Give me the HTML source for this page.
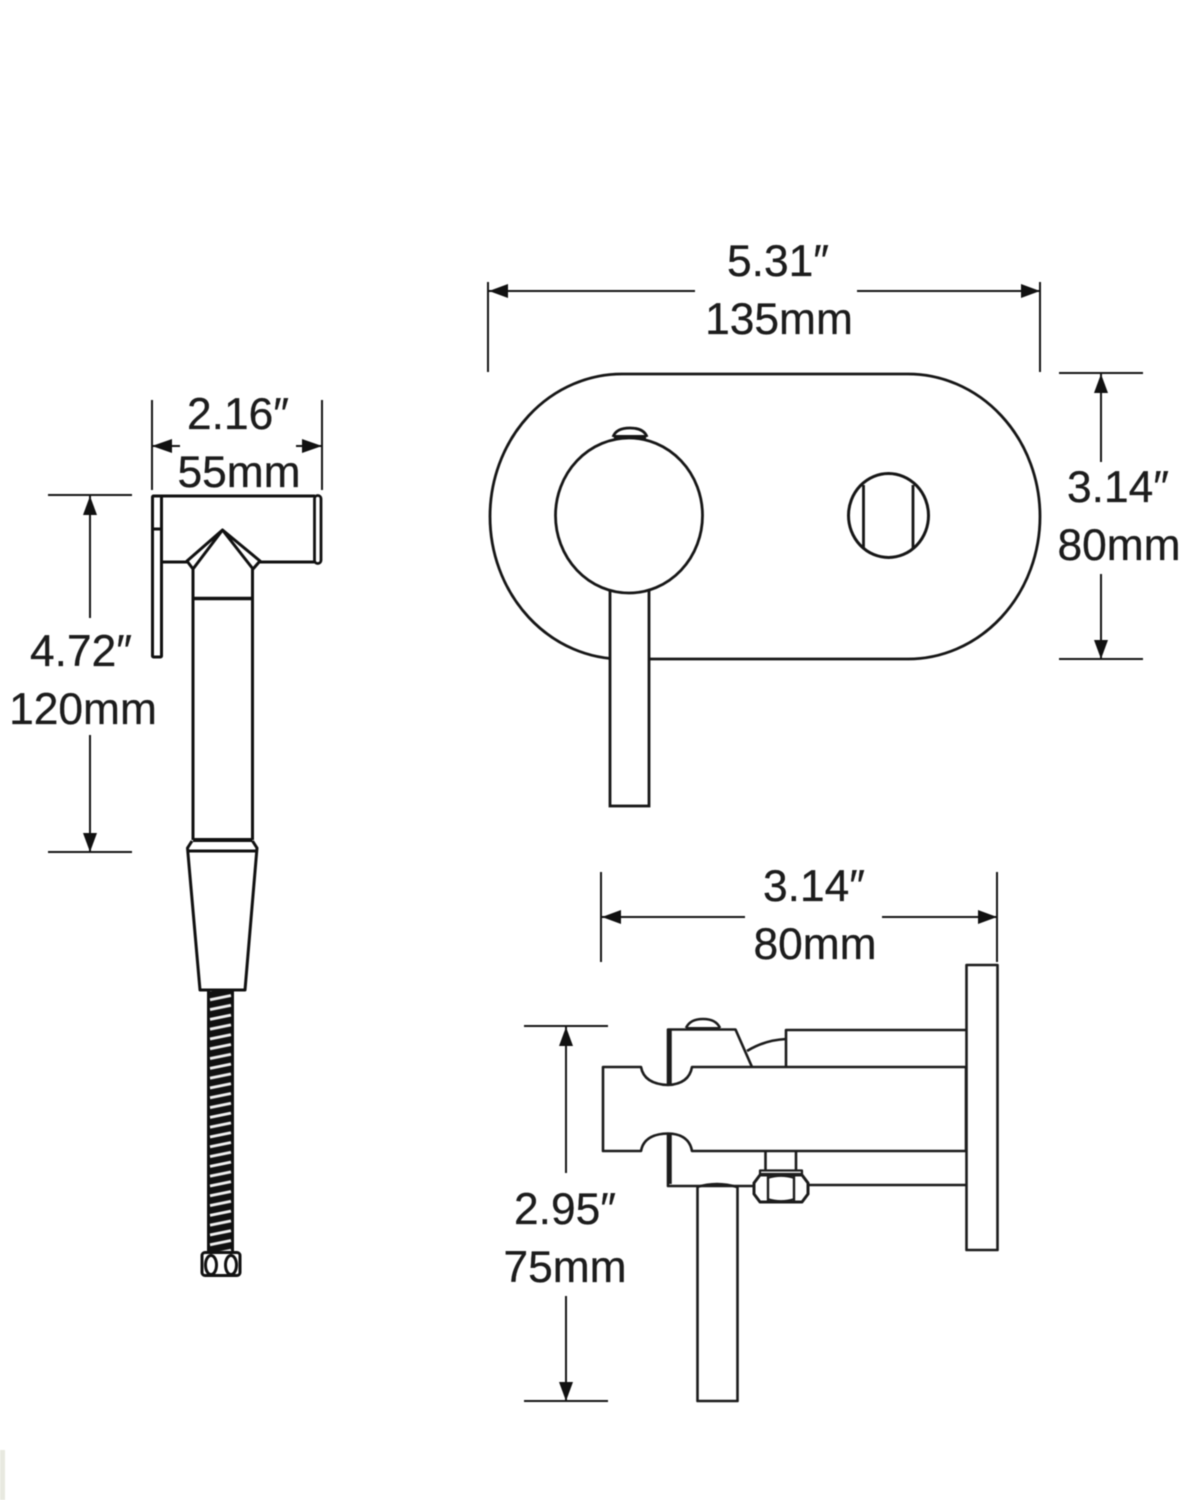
<!DOCTYPE html>
<html>
<head>
<meta charset="utf-8">
<style>
html,body{margin:0;padding:0;background:#fff;}
svg{display:block;filter:blur(.45px);}
text{font-family:"Liberation Sans",sans-serif;font-size:44.300px;fill:#1c1c1c;stroke:#1c1c1c;stroke-width:.3px;text-anchor:middle;}
</style>
</head>
<body>
<svg xmlns="http://www.w3.org/2000/svg" width="1200" height="1500" viewBox="0 0 1200 1500">
<defs>
<pattern id="hose" width="27" height="9.800" patternUnits="userSpaceOnUse" x="207" y="992">
<rect width="27" height="9.800" fill="#111"/>
<path d="M3 7.800 L24 3.500" stroke="#f2f2f2" stroke-width="2.800" fill="none"/>
</pattern>
</defs>
<rect width="1200" height="1500" fill="#fff"/>
<rect x="0" y="1450" width="5" height="50" fill="#e8e9e0"/>

<g fill="none" stroke="#161616" stroke-width="2">
<!-- dimension lines -->
<path d="M488 282V372M1040 282V372M488 291H695M857 291H1040"/>
<path d="M1059 373H1143M1059 659H1143M1101 373V462M1101 574V659"/>
<path d="M152 400V490M322 400V490M152 446H180M296 446H322"/>
<path d="M48 495H132M48 852H132M90 495V618M90 735V852"/>
<path d="M601 872V962M997 872V962M601 917H745M882 917H997"/>
<path d="M524 1026H608M524 1401H608M566 1026V1173M566 1296V1401"/>
</g>
<g fill="#111">
<path d="M489 291L508 284V298Z"/><path d="M1040 291L1021 284V298Z"/>
<path d="M1101 374L1094 393H1108Z"/><path d="M1101 659L1094 640H1108Z"/>
<path d="M152 446L172 439V453Z"/><path d="M322 446L302 439V453Z"/>
<path d="M90 496L83 515H97Z"/><path d="M90 852L83 833H97Z"/>
<path d="M602 917L621 910V924Z"/><path d="M997 917L978 910V924Z"/>
<path d="M566 1027L559 1046H573Z"/><path d="M566 1401L559 1382H573Z"/>
</g>

<!-- Text -->
<text x="778" y="276">5.31″</text>
<text x="779" y="334">135mm</text>
<text x="1118" y="502">3.14″</text>
<text x="1119" y="560">80mm</text>
<text x="238" y="429">2.16″</text>
<text x="239" y="487">55mm</text>
<text x="81" y="666">4.72″</text>
<text x="83" y="724">120mm</text>
<text x="814" y="901">3.14″</text>
<text x="815" y="959">80mm</text>
<text x="565" y="1224">2.95″</text>
<text x="565" y="1282">75mm</text>

<!-- Hand spray (left) -->
<g fill="none" stroke="#111" stroke-width="3" stroke-linejoin="round">
<path d="M161 496H315M161 562H187M260 562H315"/>
<rect x="152.500" y="496" width="9" height="161" rx="1"/>
<path d="M152 529H161"/>
<rect x="314.500" y="495.500" width="6.500" height="68" rx="3.200" fill="#fff" stroke-width="2.800"/>
<path d="M222.500 530L187 561L193 569L222.500 530L253 569L260 561Z"/>
<path d="M193 569V840M252.500 569V840"/>
<path d="M193 598.500H252.500" stroke-width="3.400"/>
<path d="M193 840H252.500" stroke-width="4"/>
<path d="M192 841L187.500 848L200 990H245L257 848L252.500 841"/>
<path d="M187.500 851H257"/>
<rect x="207" y="991" width="27" height="261" fill="url(#hose)" stroke="none"/>
<rect x="202" y="1252.500" width="38" height="23" rx="3"/>
<ellipse cx="211" cy="1265" rx="5.500" ry="9.500"/>
<ellipse cx="231" cy="1265" rx="5.500" ry="9.500"/>
</g>

<!-- Front view -->
<g fill="none" stroke="#161616" stroke-width="2.800">
<rect x="490" y="374" width="550" height="285" rx="132" ry="142.500"/>
<rect x="610" y="585" width="39" height="221" fill="#fff"/>
<path d="M613 437Q616 428 630 428Q644 428 647 437" fill="#fff"/>
<path d="M614 437H646" stroke-width="4"/>
<ellipse cx="629" cy="515.500" rx="73.500" ry="77.500" fill="#fff"/>
<ellipse cx="888.500" cy="515.500" rx="40" ry="42" stroke-width="3"/>
<path d="M863.500 485V548M913 485V548"/>
</g>

<!-- Side view -->
<g fill="none" stroke="#1c1c1c" stroke-width="2.600" stroke-linejoin="round">
<rect x="966.500" y="965" width="31" height="285"/>
<path d="M786 1067V1030H966M808 1185H966"/>
<path d="M668 1084V1029.500H735.500L752 1067"/>
<path d="M747 1051Q765 1040 786 1039"/>
<path d="M686 1028Q690 1019 703 1019Q716 1019 720 1028"/>
<path d="M686 1028.500H720" stroke-width="3"/>
<path d="M669.500 1030V1084M669.500 1134V1184" stroke-width="4.500"/>
<path d="M668 1134V1186H754"/>
<path d="M603 1067H641Q644 1084 668 1085Q689 1084 692 1067H966V1151H692Q689 1134 668 1133.500Q644 1134 641 1151H603Z"/>
<path d="M697.500 1187V1401H737.500V1187"/>
<path d="M697 1187Q717 1181 737 1187"/>
<path d="M765.500 1151V1170M796 1151V1170"/>
<rect x="760" y="1170.500" width="42" height="3.500" stroke-width="2.200"/>
<path d="M760 1175H802L808 1183V1194L802 1202H760L754 1194V1183Z" stroke-width="3"/>
<path d="M768 1176V1201M794 1176V1201" stroke-width="2.400"/>
<path d="M768 1178Q781 1174 794 1178M768 1199Q781 1203 794 1199" stroke-width="1.800"/>
</g>
</svg>
</body>
</html>
